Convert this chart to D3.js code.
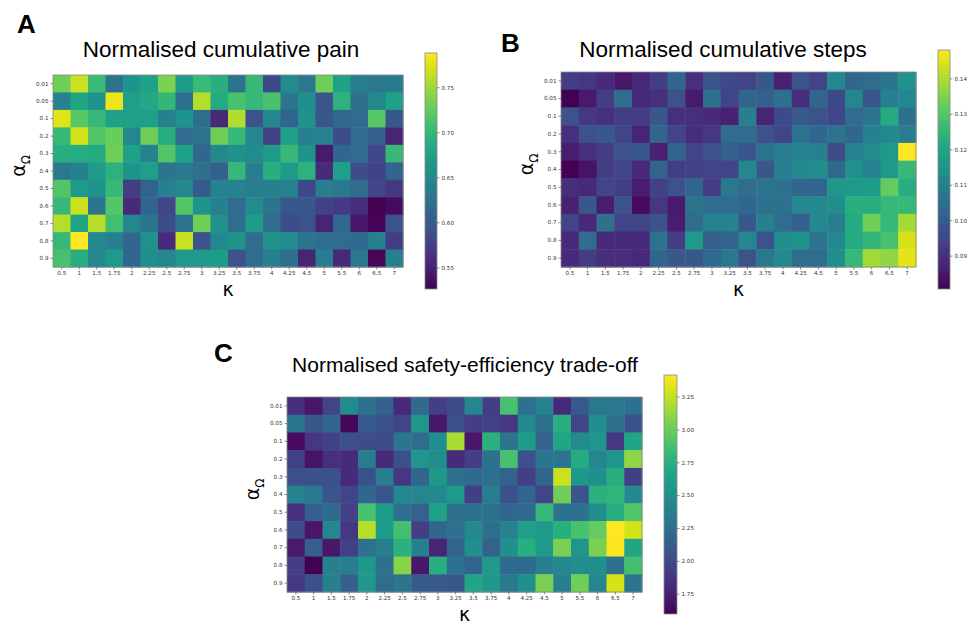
<!DOCTYPE html>
<html>
<head>
<meta charset="utf-8">
<script src="https://cdn.jsdelivr.net/npm/d3@7"></script>
<style>
  body { margin: 0; background: #fff; }
  svg { display: block; }
  .tick text { font-family: "DejaVu Sans", sans-serif; fill: #333; }
</style>
</head>
<body>
<div id="chart"></div>
<script>
// categories
const kappaLabels = ["0.5", "1", "1.5", "1.75", "2", "2.25", "2.5", "2.75", "3", "3.25",
    "3.5", "3.75", "4", "4.25", "4.5", "5", "5.5", "6", "6.5", "7"];
const alphaLabels = ["0.01", "0.05", "0.1", "0.2", "0.3", "0.4", "0.5", "0.6", "0.7", "0.8", "0.9"];

// panel A: normalised cumulative pain (rows = alpha, cols = kappa)
const painValues = [
    [0.730,0.767,0.704,0.626,0.662,0.675,0.736,0.670,0.704,0.691,0.626,0.702,0.584,0.652,0.631,0.730,0.675,0.636,0.631,0.633],
    [0.641,0.681,0.660,0.780,0.673,0.683,0.699,0.623,0.759,0.686,0.712,0.702,0.712,0.628,0.654,0.594,0.694,0.623,0.647,0.675],
    [0.775,0.720,0.702,0.675,0.673,0.673,0.639,0.662,0.620,0.557,0.757,0.592,0.649,0.610,0.657,0.597,0.615,0.618,0.720,0.597],
    [0.702,0.770,0.717,0.728,0.647,0.730,0.691,0.618,0.626,0.730,0.702,0.647,0.578,0.673,0.639,0.641,0.586,0.618,0.605,0.552],
    [0.691,0.688,0.686,0.730,0.675,0.641,0.717,0.675,0.612,0.647,0.657,0.652,0.667,0.702,0.662,0.544,0.612,0.618,0.581,0.702],
    [0.631,0.639,0.670,0.694,0.662,0.673,0.628,0.631,0.623,0.605,0.702,0.636,0.691,0.670,0.694,0.557,0.675,0.586,0.578,0.610],
    [0.717,0.670,0.660,0.702,0.573,0.610,0.639,0.649,0.599,0.641,0.641,0.636,0.639,0.641,0.584,0.636,0.631,0.618,0.581,0.568],
    [0.702,0.767,0.628,0.717,0.555,0.610,0.581,0.717,0.662,0.639,0.618,0.652,0.628,0.597,0.597,0.578,0.571,0.560,0.526,0.534],
    [0.759,0.681,0.759,0.709,0.647,0.626,0.586,0.628,0.730,0.657,0.618,0.670,0.618,0.586,0.592,0.552,0.615,0.542,0.529,0.592],
    [0.702,0.788,0.649,0.639,0.612,0.657,0.557,0.767,0.592,0.647,0.660,0.618,0.657,0.654,0.626,0.620,0.618,0.615,0.639,0.573],
    [0.712,0.691,0.647,0.667,0.612,0.654,0.647,0.667,0.667,0.670,0.592,0.618,0.639,0.620,0.552,0.636,0.557,0.631,0.531,0.639]
];

// panel B: normalised cumulative steps
const stepsValues = [
    [0.0927,0.0914,0.0887,0.0846,0.0880,0.0927,0.1028,0.0900,0.0975,0.0954,0.0941,0.0988,0.0867,0.0975,0.0941,0.1116,0.1028,0.1042,0.1069,0.1156],
    [0.0806,0.0853,0.0927,0.1042,0.0880,0.0900,0.0975,0.0853,0.1055,0.0941,0.1022,0.1008,0.1055,0.0894,0.1028,0.0954,0.1116,0.0988,0.1096,0.1116],
    [0.0975,0.0914,0.0900,0.0927,0.0927,0.0988,0.0900,0.0900,0.0887,0.0867,0.1096,0.0873,0.0954,0.0995,0.0975,0.0948,0.1042,0.1069,0.1217,0.1055],
    [0.0900,0.0975,0.0988,0.0941,0.0873,0.1022,0.0941,0.0894,0.0914,0.1042,0.1042,0.0975,0.0941,0.1062,0.1028,0.1062,0.1028,0.1096,0.1123,0.1089],
    [0.0860,0.0900,0.0927,0.0975,0.0988,0.0867,0.1022,0.0941,0.0975,0.1008,0.0981,0.1062,0.1089,0.1103,0.1096,0.0961,0.1103,0.1130,0.1170,0.1480],
    [0.0808,0.0840,0.0927,0.0941,0.0880,0.1022,0.0927,0.0934,0.0941,0.0941,0.1116,0.0988,0.1089,0.1123,0.1136,0.1035,0.1143,0.1103,0.1170,0.1258],
    [0.0894,0.0880,0.0941,0.0927,0.0860,0.0934,0.0975,0.1022,0.0927,0.1076,0.1042,0.1069,0.1055,0.1028,0.1022,0.1163,0.1170,0.1177,0.1318,0.1224],
    [0.0867,0.0988,0.0860,0.0975,0.0826,0.0914,0.0853,0.1062,0.1042,0.1042,0.1028,0.1055,0.1055,0.1116,0.1123,0.1136,0.1231,0.1231,0.1258,0.1258],
    [0.0941,0.0880,0.1055,0.0941,0.0941,0.0975,0.0860,0.1042,0.1103,0.1103,0.0988,0.1096,0.1042,0.1008,0.1123,0.1089,0.1217,0.1332,0.1258,0.1386],
    [0.0880,0.1042,0.0880,0.0887,0.0887,0.1062,0.0927,0.1170,0.1008,0.1022,0.1116,0.0975,0.1136,0.1156,0.1062,0.1123,0.1217,0.1251,0.1285,0.1440],
    [0.0887,0.0927,0.0894,0.0894,0.0880,0.1022,0.0988,0.0988,0.1035,0.1076,0.0975,0.1076,0.1123,0.1042,0.1042,0.1136,0.1258,0.1386,0.1365,0.1453]
];

// panel C: normalised safety-efficiency trade-off
const tradeoffValues = [
    [1.832,1.704,1.959,2.469,2.268,2.141,1.813,2.214,1.923,2.014,2.432,1.923,2.887,2.268,2.396,1.795,2.105,2.323,2.323,2.268],
    [2.305,2.086,2.196,1.631,2.105,2.050,1.959,2.541,1.704,2.050,1.923,1.941,1.886,2.450,2.268,2.742,1.977,2.487,2.268,2.050],
    [1.650,1.886,1.941,2.050,2.014,2.014,2.305,2.232,2.487,3.178,1.704,2.760,2.305,2.596,2.177,2.669,2.469,2.541,1.886,2.669],
    [1.941,1.686,1.850,1.813,2.359,1.813,2.050,2.541,2.487,1.813,1.923,2.268,2.887,2.050,2.305,2.305,2.705,2.432,2.560,3.106],
    [2.050,2.050,2.050,1.813,2.050,2.359,1.886,2.196,2.560,2.268,2.214,2.250,2.159,1.923,2.196,3.269,2.560,2.505,2.742,1.923],
    [2.396,2.323,2.068,1.959,2.196,2.068,2.432,2.432,2.450,2.578,1.923,2.359,2.050,2.196,1.959,3.015,2.068,2.760,2.778,2.450],
    [1.850,2.141,2.214,1.941,2.887,2.578,2.268,2.159,2.632,2.268,2.268,2.268,2.196,2.214,2.814,2.268,2.268,2.487,2.742,2.924],
    [2.014,1.704,2.432,1.886,3.215,2.596,2.869,1.923,2.196,2.268,2.450,2.250,2.396,2.614,2.578,2.742,2.887,2.978,3.415,3.288],
    [1.722,2.141,1.704,1.941,2.268,2.378,2.760,2.378,1.777,2.159,2.505,2.159,2.505,2.742,2.596,3.051,2.541,3.051,3.397,2.669],
    [1.923,1.595,2.378,2.359,2.560,2.268,3.087,1.704,2.742,2.268,2.177,2.578,2.214,2.214,2.359,2.450,2.505,2.487,2.268,2.869],
    [1.886,2.050,2.378,2.141,2.560,2.232,2.305,2.105,2.105,2.086,2.669,2.560,2.323,2.505,3.051,2.378,3.015,2.432,3.306,2.305]
];

// colorbar tick values
const painTicks = [0.55, 0.60, 0.65, 0.70, 0.75];
const stepsTicks = [0.09, 0.10, 0.11, 0.12, 0.13, 0.14];
const tradeoffTicks = [1.75, 2.00, 2.25, 2.50, 2.75, 3.00, 3.25];

const W = 971, H = 624;
const svg = d3.select("#chart")
    .append("svg")
        .attr("width", W)
        .attr("height", H);

// draws one heatmap panel with its colorbar
function drawPanel(p) {
    const g = svg.append("g");

    const x = d3.scaleBand().domain(kappaLabels).range([p.x0, p.x1]);
    const y = d3.scaleBand().domain(alphaLabels).range([p.y0, p.y1]);
    const flat = p.values.flat();
    const color = d3.scaleSequential(d3.interpolateViridis).domain(d3.extent(flat));

    // cells
    const cells = [];
    p.values.forEach((row, i) => row.forEach((v, j) => cells.push({a: alphaLabels[i], k: kappaLabels[j], v: v})));
    g.selectAll("rect.cell")
        .data(cells)
        .join("rect")
        .attr("class", "cell")
        .attr("x", d => x(d.k))
        .attr("y", d => y(d.a))
        .attr("width", x.bandwidth() + 0.5)
        .attr("height", y.bandwidth() + 0.5)
        .attr("fill", d => color(d.v));

    // frame
    g.append("rect")
        .attr("x", p.x0).attr("y", p.y0)
        .attr("width", p.x1 - p.x0).attr("height", p.y1 - p.y0)
        .attr("fill", "none").attr("stroke", "#888").attr("stroke-width", 0.8);

    // axes
    const xAxis = g.append("g")
        .attr("transform", `translate(0, ${p.y1})`)
        .call(d3.axisBottom(x).tickSize(2.5).tickPadding(2));
    const yAxis = g.append("g")
        .attr("transform", `translate(${p.x0}, 0)`)
        .call(d3.axisLeft(y).tickSize(2.5).tickPadding(2));
    [xAxis, yAxis].forEach(a => {
        a.select(".domain").remove();
        a.selectAll(".tick line").attr("stroke", "#444").attr("stroke-width", 0.6);
        a.selectAll(".tick text").style("font-size", "5.6px");
    });

    // colorbar
    const gradId = "grad" + p.letter;
    const grad = svg.append("defs").append("linearGradient")
        .attr("id", gradId)
        .attr("x1", 0).attr("y1", 1).attr("x2", 0).attr("y2", 0);
    d3.range(0, 1.0001, 0.05).forEach(t => {
        grad.append("stop")
            .attr("offset", t)
            .attr("stop-color", d3.interpolateViridis(t));
    });
    const cb = d3.scaleLinear().domain(color.domain()).range([p.cb.y1, p.cb.y0]);
    g.append("rect")
        .attr("x", p.cb.x).attr("y", p.cb.y0)
        .attr("width", p.cb.w).attr("height", p.cb.y1 - p.cb.y0)
        .attr("fill", `url(#${gradId})`)
        .attr("stroke", "#888").attr("stroke-width", 0.8);
    const cbAxis = g.append("g")
        .attr("transform", `translate(${p.cb.x + p.cb.w}, 0)`)
        .call(d3.axisRight(cb).tickValues(p.ticks).tickFormat(d3.format(p.fmt)).tickSize(2.5).tickPadding(2));
    cbAxis.select(".domain").remove();
    cbAxis.selectAll(".tick line").attr("stroke", "#444").attr("stroke-width", 0.6);
    cbAxis.selectAll(".tick text").style("font-size", "5.6px");

    // title
    g.append("text")
        .attr("x", p.title.x).attr("y", p.title.y)
        .attr("text-anchor", "middle")
        .style("font-family", "'Liberation Sans', Arial, sans-serif")
        .style("font-size", p.title.size + "px")
        .text(p.title.text);

    // panel letter
    g.append("text")
        .attr("x", p.letterPos[0]).attr("y", p.letterPos[1])
        .style("font-family", "'Liberation Sans', Arial, sans-serif")
        .style("font-size", "26px")
        .style("font-weight", "bold")
        .text(p.letter);

    // x label (kappa)
    g.append("text")
        .attr("x", (p.x0 + p.x1) / 2).attr("y", p.y1 + 29)
        .attr("text-anchor", "middle")
        .style("font-family", "'DejaVu Sans', sans-serif")
        .style("font-size", "19px")
        .text("\u03BA");

    // y label (alpha Omega)
    const yl = g.append("text")
        .attr("transform", `translate(${p.x0 - 28}, ${(p.y0 + p.y1) / 2 - 5}) rotate(-90)`)
        .attr("text-anchor", "middle")
        .style("font-family", "'DejaVu Sans', sans-serif")
        .style("font-size", "19px");
    yl.append("tspan").text("\u03B1");
    yl.append("tspan").attr("dy", 5).style("font-size", "12px").text("\u03A9");
}

drawPanel({
    letter: "A", letterPos: [17, 33],
    values: painValues, ticks: painTicks, fmt: ".2f",
    x0: 53, x1: 403, y0: 75, y1: 267,
    cb: {x: 425, w: 12, y0: 53, y1: 289},
    title: {x: 221, y: 57, size: 22.5, text: "Normalised cumulative pain"}
});

drawPanel({
    letter: "B", letterPos: [501, 52],
    values: stepsValues, ticks: stepsTicks, fmt: ".2f",
    x0: 561, x1: 916, y0: 72, y1: 267,
    cb: {x: 938, w: 12, y0: 50, y1: 289},
    title: {x: 723, y: 57, size: 22.5, text: "Normalised cumulative steps"}
});

drawPanel({
    letter: "C", letterPos: [214, 362],
    values: tradeoffValues, ticks: tradeoffTicks, fmt: ".2f",
    x0: 287, x1: 642, y0: 397, y1: 592,
    cb: {x: 664, w: 13, y0: 375, y1: 614},
    title: {x: 465, y: 372, size: 21, text: "Normalised safety-efficiency trade-off"}
});
</script>
</body>
</html>
